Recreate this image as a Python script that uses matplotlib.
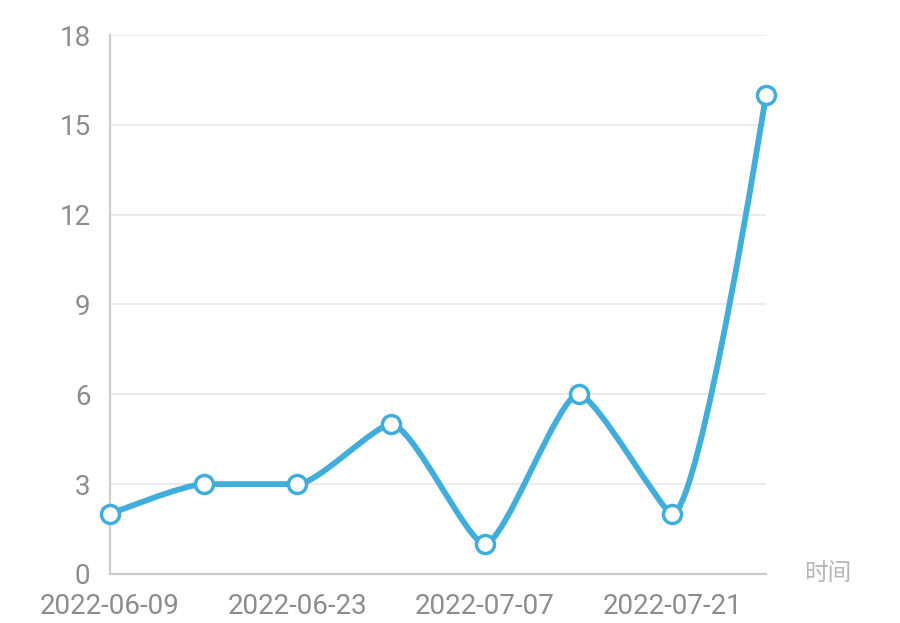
import matplotlib.pyplot as plt
import numpy as np
from matplotlib.path import Path
from matplotlib.patches import PathPatch

dates = ['2022-06-09', '2022-06-16', '2022-06-23', '2022-06-30',
         '2022-07-07', '2022-07-14', '2022-07-21', '2022-07-28']
values = [2, 3, 3, 5, 1, 6, 2, 16]
y_ticks = [0, 3, 6, 9, 12, 15, 18]

line_color = '#41addb'
label_color = '#8c8c8c'

plt.rcParams['font.family'] = ['Roboto', 'Noto Sans CJK SC', 'DejaVu Sans']

fig = plt.figure(figsize=(9, 6.23), dpi=100)
ax = fig.add_axes([0.1222, 0.0787, 0.7289, 0.8651])

x = np.arange(len(values))
ax.set_xlim(0, len(values) - 1)
ax.set_ylim(0, 18)


def clamp(v, a, b):
    return min(max(v, min(a, b)), max(a, b))


# smoothed line: bezier control points worked out in pixel space,
# kept inside the box of neighbouring points (no overshoot)
pts = ax.transData.transform(np.column_stack([x, values]))
smooth = 0.2
verts = [pts[0]]
codes = [Path.MOVETO]
cp0 = pts[0].copy()
for i in range(1, len(pts)):
    px, py = pts[i - 1]
    cx, cy = pts[i]
    if i == len(pts) - 1:
        cp1 = np.array([cx, cy])
        nxt_cp = None
    else:
        nx, ny = pts[i + 1]
        vx, vy = nx - px, ny - py
        len_prev = np.hypot(cx - px, cy - py)
        len_next = np.hypot(nx - cx, ny - cy)
        ratio = len_next / (len_next + len_prev)
        ncx = clamp(cx + vx * smooth * ratio, nx, cx)
        ncy = clamp(cy + vy * smooth * ratio, ny, cy)
        vx, vy = ncx - cx, ncy - cy
        c1x = clamp(cx - vx * len_prev / len_next, px, cx)
        c1y = clamp(cy - vy * len_prev / len_next, py, cy)
        vx, vy = cx - c1x, cy - c1y
        cp1 = np.array([c1x, c1y])
        nxt_cp = np.array([cx + vx * len_next / len_prev, cy + vy * len_next / len_prev])
    verts += [cp0, cp1, pts[i]]
    codes += [Path.CURVE4] * 3
    cp0 = nxt_cp

verts = ax.transData.inverted().transform(np.array(verts))
ax.add_patch(PathPatch(Path(verts, codes), facecolor='none', edgecolor=line_color,
                       lw=4.2, capstyle='round', joinstyle='round', zorder=3,
                       clip_on=False))

ax.plot(x, values, linestyle='none', marker='o', markersize=13,
        markerfacecolor='white', markeredgecolor=line_color, markeredgewidth=2.5,
        zorder=4, clip_on=False)

ax.set_yticks(y_ticks)
ax.set_xticks(x[::2])
ax.set_xticklabels(dates[::2])
ax.tick_params(axis='both', length=0, labelsize=20, labelcolor=label_color)
ax.tick_params(axis='y', pad=14)
ax.tick_params(axis='x', pad=14)

ax.grid(axis='y', color='#e8e8e8', lw=1.2)
ax.set_axisbelow(True)
for side in ['top', 'right']:
    ax.spines[side].set_visible(False)
for side in ['left', 'bottom']:
    ax.spines[side].set_color('#cccccc')
    ax.spines[side].set_linewidth(1.6)

ax.text(1.094, 0.0, '时间', transform=ax.transAxes, ha='center', va='center',
        fontsize=17, color='#b5b5b5', family=['Noto Sans CJK SC', 'DejaVu Sans'])

fig.savefig('out.png', dpi=100)
